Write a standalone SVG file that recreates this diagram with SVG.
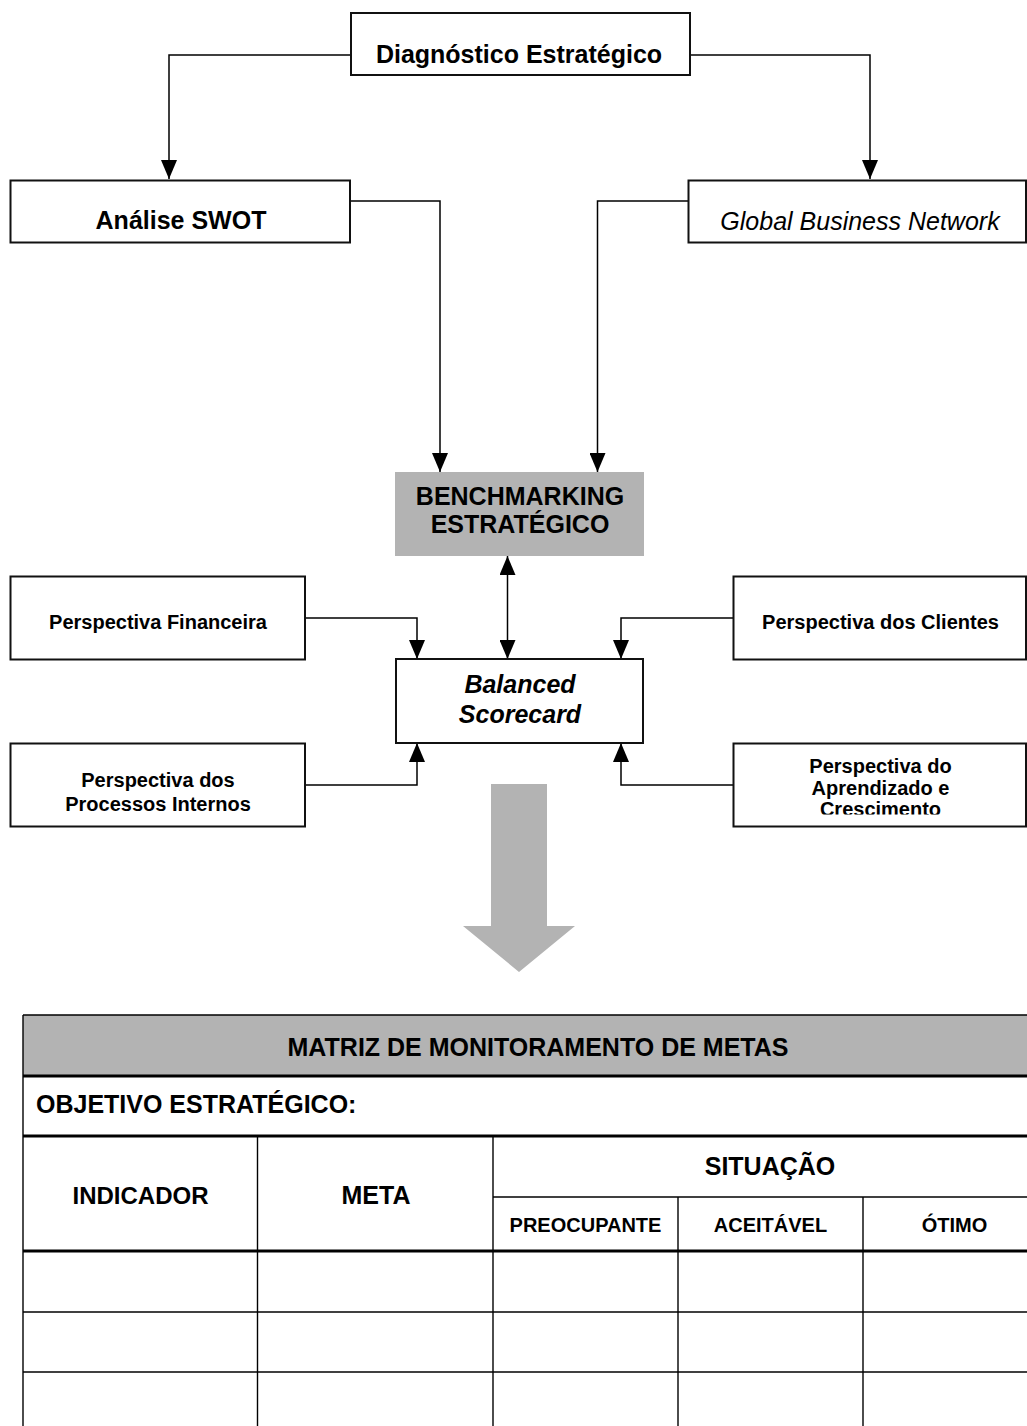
<svg xmlns="http://www.w3.org/2000/svg" width="1027" height="1426" viewBox="0 0 1027 1426">
  <style>
    .box { fill: #ffffff; stroke: #111111; stroke-width: 2; }
    .shade { fill: #b3b3b3; stroke: none; }
    .conn { fill: none; stroke: #000000; stroke-width: 1.5; }
    text { font-family: "Liberation Sans", Arial, Helvetica, sans-serif; fill: #000000; }
    .b { font-weight: bold; }
    .i { font-style: italic; }
    .c { text-anchor: middle; }
    .s25 { font-size: 25px; }
    .s24 { font-size: 24px; }
    .s20 { font-size: 20px; }
    .thin { stroke: #000000; stroke-width: 1.4; fill: none; }
    .thick { stroke: #000000; stroke-width: 2.8; fill: none; }
  </style>
  <defs>
    <marker id="arrow" markerUnits="userSpaceOnUse" markerWidth="19" markerHeight="16" refX="19" refY="8" orient="auto-start-reverse">
      <path d="M0,0 L19,8 L0,16 z" fill="#000000"/>
    </marker>
    <clipPath id="clipApr">
      <rect x="734" y="744" width="292" height="70.5"/>
    </clipPath>
  </defs>

  <!-- connectors -->
  <g id="connectors">
    <path class="conn" d="M352,55 H169 V179" marker-end="url(#arrow)"/>
    <path class="conn" d="M690,55 H870 V179" marker-end="url(#arrow)"/>
    <path class="conn" d="M350,201 H440 V472" marker-end="url(#arrow)"/>
    <path class="conn" d="M688,201 H597.5 V472" marker-end="url(#arrow)"/>
    <path class="conn" d="M507.5,556 V659" marker-start="url(#arrow)" marker-end="url(#arrow)"/>
    <path class="conn" d="M305,618 H417 V659" marker-end="url(#arrow)"/>
    <path class="conn" d="M733.5,618 H621 V659" marker-end="url(#arrow)"/>
    <path class="conn" d="M305,785 H417 V743" marker-end="url(#arrow)"/>
    <path class="conn" d="M733.5,785 H621 V743" marker-end="url(#arrow)"/>
  </g>

  <!-- nodes -->
  <g id="diagnostico">
    <rect class="box" x="351" y="13" width="339" height="62"/>
    <text class="b c s25" x="519" y="62.5">Diagnóstico Estratégico</text>
  </g>
  <g id="swot">
    <rect class="box" x="10.5" y="180.5" width="339.5" height="62"/>
    <text class="b c s25" x="181" y="229">Análise SWOT</text>
  </g>
  <g id="gbn">
    <rect class="box" x="688.5" y="180.5" width="337.5" height="62"/>
    <text class="i c s25" x="860" y="229.5">Global Business Network</text>
  </g>
  <g id="benchmarking">
    <rect class="shade" x="395" y="472" width="249" height="84"/>
    <text class="b c s25" x="520" y="505">BENCHMARKING</text>
    <text class="b c s25" x="520" y="533">ESTRATÉGICO</text>
  </g>
  <g id="financeira">
    <rect class="box" x="10.5" y="576.5" width="294.5" height="83"/>
    <text class="b c s20" x="158" y="628.5">Perspectiva Financeira</text>
  </g>
  <g id="clientes">
    <rect class="box" x="733.5" y="576.5" width="292.5" height="83"/>
    <text class="b c s20" x="880.5" y="628.5">Perspectiva dos Clientes</text>
  </g>
  <g id="bsc">
    <rect class="box" x="396" y="659" width="247" height="84"/>
    <text class="b i c s25" x="520" y="693">Balanced</text>
    <text class="b i c s25" x="520" y="722.5">Scorecard</text>
  </g>
  <g id="processos">
    <rect class="box" x="10.5" y="743.5" width="294.5" height="83"/>
    <text class="b c s20" x="158" y="786.5">Perspectiva dos</text>
    <text class="b c s20" x="158" y="810.5">Processos Internos</text>
  </g>
  <g id="aprendizado">
    <rect class="box" x="733.5" y="743.5" width="292.5" height="83"/>
    <g clip-path="url(#clipApr)">
      <text class="b c s20" x="880.5" y="772.5">Perspectiva do</text>
      <text class="b c s20" x="880.5" y="794.5">Aprendizado e</text>
      <text class="b c s20" x="880.5" y="816">Crescimento</text>
    </g>
  </g>

  <!-- block arrow leading down to the matrix -->
  <g id="block-arrow">
    <path class="shade" d="M491,784 H547 V926 H575 L519,972 L463,926 H491 Z"/>
  </g>

  <!-- goal monitoring matrix -->
  <g id="matriz">
    <rect class="shade" x="23" y="1015" width="1030" height="61"/>
    <!-- horizontal rules -->
    <line class="thin" x1="23" y1="1015" x2="1053" y2="1015"/>
    <line class="thick" x1="23" y1="1076" x2="1053" y2="1076"/>
    <line class="thick" x1="23" y1="1136" x2="1053" y2="1136"/>
    <line class="thin" x1="493" y1="1197" x2="1053" y2="1197"/>
    <line class="thick" x1="23" y1="1251" x2="1053" y2="1251"/>
    <line class="thin" x1="23" y1="1312" x2="1053" y2="1312"/>
    <line class="thin" x1="23" y1="1372" x2="1053" y2="1372"/>
    <!-- vertical rules -->
    <line class="thin" x1="23" y1="1015" x2="23" y2="1426"/>
    <line class="thin" x1="257.5" y1="1136" x2="257.5" y2="1426"/>
    <line class="thin" x1="493" y1="1136" x2="493" y2="1426"/>
    <line class="thin" x1="678" y1="1197" x2="678" y2="1426"/>
    <line class="thin" x1="863" y1="1197" x2="863" y2="1426"/>

    <text class="b c s25" x="538" y="1056">MATRIZ DE MONITORAMENTO DE METAS</text>
    <text class="b s25" x="36" y="1113">OBJETIVO ESTRATÉGICO:</text>
    <text class="b c s24" x="140.5" y="1204">INDICADOR</text>
    <text class="b c s25" x="376" y="1204">META</text>
    <text class="b c s25" x="770" y="1175">SITUAÇÃO</text>
    <text class="b c s20" x="585.5" y="1232">PREOCUPANTE</text>
    <text class="b c s20" x="770.5" y="1232">ACEITÁVEL</text>
    <text class="b c s20" x="954.5" y="1232">ÓTIMO</text>
  </g>
</svg>
